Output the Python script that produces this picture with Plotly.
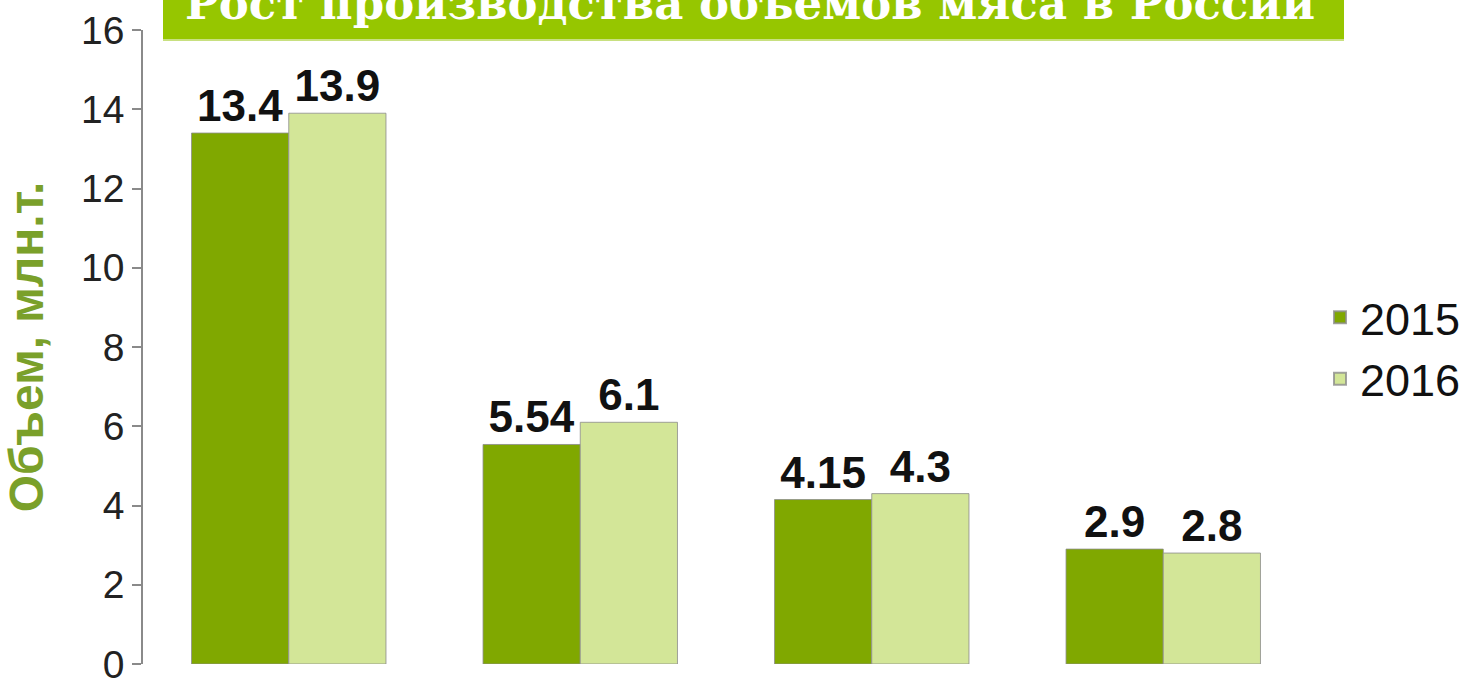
import plotly.graph_objects as go

categories = ["Всего", "Птица", "Свинина", "Говядина"]
years = ["2015", "2016"]
values_2015 = [13.4, 5.54, 4.15, 2.9]
values_2016 = [13.9, 6.1, 4.3, 2.8]
y_ticks = [0, 2, 4, 6, 8, 10, 12, 14, 16]
title_text = "Рост производства объемов мяса в России"
y_title = "Объем, млн.т."

colors = {"2015": "#80a800", "2016": "#d3e698"}

fig = go.Figure()
for name, vals in zip(years, [values_2015, values_2016]):
    fig.add_trace(go.Bar(
        x=categories, y=vals, name=name,
        marker=dict(color=colors[name], line=dict(color="rgba(140,140,140,0.8)", width=1)),
        text=[f"<b>{v:g}</b>" for v in vals], textposition="outside",
        textfont=dict(family="Liberation Sans, Arial", size=44, color="#111111"),
        cliponaxis=False,
    ))

W, H = 1474, 683
L, R, T, B = 143, 165, 30, 19
pw, ph = W - L - R, H - T - B

def px_x(p):
    return (p - L) / pw

def px_y(p):
    return (H - B - p) / ph

fig.update_layout(
    width=W, height=H,
    margin=dict(l=L, r=R, t=T, b=B, autoexpand=False),
    paper_bgcolor="white", plot_bgcolor="white",
    barmode="group", bargap=0.333, bargroupgap=0,
    showlegend=True,
    legend=dict(x=px_x(1320), y=px_y(348), xanchor="left", yanchor="middle",
                font=dict(family="Liberation Sans, Arial", size=45, color="#111111"),
                itemsizing="constant", tracegroupgap=0, bgcolor="rgba(0,0,0,0)"),
    font=dict(family="Liberation Sans, Arial"),
)
fig.update_xaxes(showticklabels=False, showline=False, ticks="", showgrid=False, zeroline=False)
fig.update_yaxes(
    range=[0, 16], tickvals=y_ticks, showgrid=False, zeroline=False,
    showline=True, linecolor="#8a8a8a", linewidth=1.5,
    ticks="outside", ticklen=9, tickcolor="#8a8a8a", tickwidth=1.5,
    ticklabeloverflow="allow",
    tickfont=dict(family="Liberation Sans, Arial", size=39, color="#222222"),
    title=dict(text="<b>" + y_title + "</b>",
               font=dict(family="Liberation Sans, Arial", size=48, color="#7aa02a"),
               standoff=30),
)

fig.add_shape(type="rect", xref="paper", yref="paper",
              x0=px_x(163), x1=px_x(1344), y0=px_y(39), y1=px_y(-10),
              fillcolor="#96c600", line=dict(width=0), layer="above")
fig.add_shape(type="line", xref="paper", yref="paper",
              x0=px_x(163), x1=px_x(1344), y0=px_y(40), y1=px_y(40),
              line=dict(color="#c8e080", width=2), layer="above")
fig.add_annotation(xref="paper", yref="paper", x=px_x(750), y=px_y(32),
                   xanchor="center", yanchor="bottom", showarrow=False,
                   text="<b>" + title_text + "</b>",
                   font=dict(family="DejaVu Serif", size=45, color="white"))

fig.write_html("out.html", config={"displayModeBar": False},
               post_script="document.body.style.margin='0';document.body.style.overflow='hidden';")
